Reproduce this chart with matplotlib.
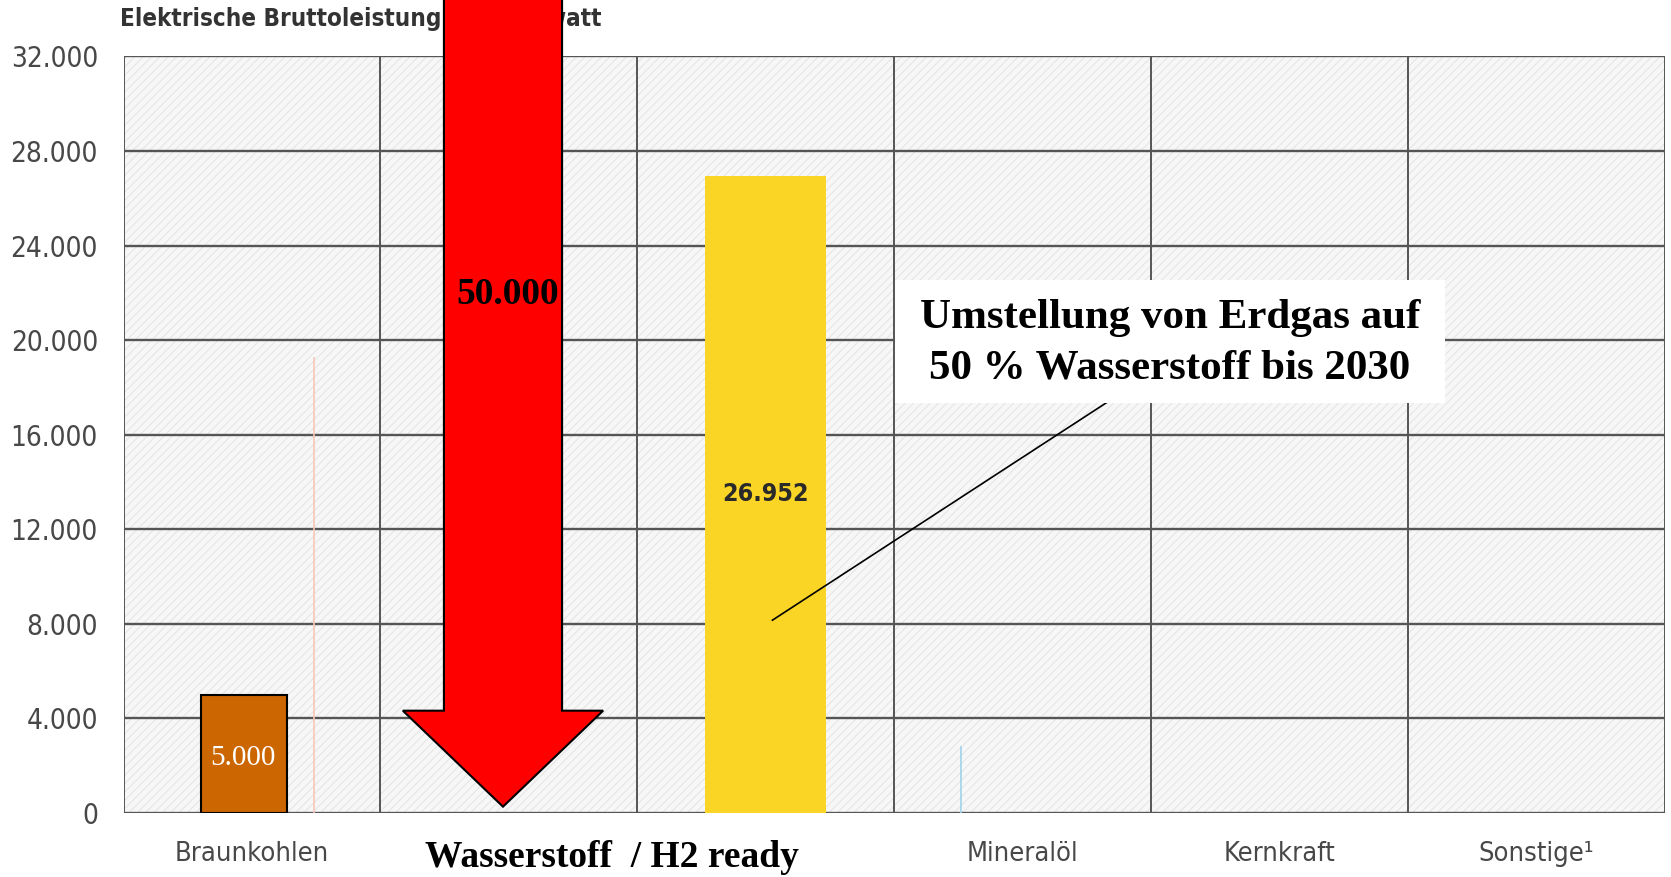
import matplotlib
matplotlib.use('Agg')
import matplotlib.pyplot as plt
from matplotlib.patches import Polygon, Rectangle
import numpy as np

# ============================================
# Daten
# ============================================
categories = ['Braunkohlen', '', '', 'Mineralöl', 'Kernkraft', 'Sonstige¹']
y_ticks = [0, 4000, 8000, 12000, 16000, 20000, 24000, 28000, 32000]
y_tick_labels = ['0', '4.000', '8.000', '12.000', '16.000', '20.000', '24.000', '28.000', '32.000']

braunkohle_value = 5000
braunkohle_label = '5.000'
erdgas_value = 26952
erdgas_label = '26.952'
wasserstoff_label = '50.000'
steinkohle_trace = 19290   # dünne Linie (Rest im Original)
mineraloel_trace = 2840

title = 'Elektrische Bruttoleistung in Megawatt'
box_text = 'Umstellung von Erdgas auf\n50 % Wasserstoff bis 2030'
h2_text = 'Wasserstoff  / H2 ready'

# ============================================
# Stil
# ============================================
sans = ['DejaVu Sans']
serif = ['Liberation Serif', 'DejaVu Serif']
grid_color = '#555555'
label_color = '#484848'

plt.rcParams['hatch.linewidth'] = 0.7

fig = plt.figure(figsize=(16.71, 8.77), dpi=100)
ax = fig.add_axes([0.074, 0.0729, 0.9222, 0.8627])
ax.set_xlim(-0.5, 5.5)
ax.set_ylim(0, 32000)

# Hintergrund schraffiert
ax.add_patch(Rectangle((-0.5, 0), 6, 32000, facecolor='#f7f7f7', edgecolor='#e4e4e4',
                       hatch='////', linewidth=0, zorder=0))

# Gitter
for y in y_ticks:
    ax.axhline(y, color=grid_color, linewidth=1.7, zorder=1)
for x in np.arange(-0.5, 6.0, 1.0):
    ax.axvline(x, color=grid_color, linewidth=1.4, zorder=1)
for s in ax.spines.values():
    s.set_visible(False)

# Balken
ax.bar(-0.03, braunkohle_value, width=0.335, color='#CC6600', edgecolor='black',
       linewidth=1.5, zorder=3)
ax.text(-0.036, braunkohle_value * 0.47, braunkohle_label, color='white', ha='center',
        va='center', fontsize=21, family=serif, zorder=4)

ax.bar(2.0, erdgas_value, width=0.472, color='#FAD526', linewidth=0, zorder=3)
ax.text(2.0, erdgas_value / 2, erdgas_label, color='#2a2a2a', ha='center', va='center',
        fontsize=18, fontweight='bold', family=sans, fontstretch='condensed', zorder=4)

ax.vlines(0.241, 0, steinkohle_trace, color='#f5c8b8', linewidth=1.2, zorder=2)
ax.vlines(2.759, 0, mineraloel_trace, color='#9fd3ea', linewidth=1.2, zorder=2)

# Achsenbeschriftung
ax.set_yticks(y_ticks)
ax.set_yticklabels(y_tick_labels, fontsize=20, color=label_color, family=sans,
                   fontstretch='condensed')
ax.set_xticks(range(len(categories)))
ax.set_xticklabels(categories, fontsize=19.5, color=label_color, family=sans,
                   fontstretch='condensed')
ax.tick_params(axis='y', length=0, pad=18.5)
ax.tick_params(axis='x', length=0, pad=20)

# Titel unter dem Pfeil zeichnen
ax.text(0.072, 0.978, title, transform=fig.transFigure, fontsize=17.4, fontweight='bold',
        color='#333333', family=sans, fontstretch='condensed', ha='left', va='center',
        zorder=2, clip_on=False)

# Roter Pfeil (Wasserstoff)
cx = 0.977
arrow = Polygon([(cx - 0.23, 36000), (cx + 0.23, 36000), (cx + 0.23, 4330),
                 (cx + 0.39, 4330), (cx, 270), (cx - 0.39, 4330), (cx - 0.23, 4330)],
                closed=True, facecolor='#FF0000', edgecolor='black', linewidth=1.5,
                zorder=6, clip_on=False)
ax.add_patch(arrow)
ax.text(0.995, 21950, wasserstoff_label, ha='center', va='center', fontsize=27,
        fontweight='bold', family=serif, color='black', zorder=7)
ax.text(1.40, -1870, h2_text, ha='center', va='center', fontsize=27, fontweight='bold',
        family=serif, color='black', zorder=7, clip_on=False)

# Hinweisbox
ax.plot([3.326, 2.026], [17352, 8158], color='black', linewidth=1.2, zorder=5)
ax.add_patch(Rectangle((2.502, 17352), 2.141, 5183, facecolor='white', edgecolor='none',
                       zorder=6))
ax.text(3.573, 19880, box_text, ha='center', va='center', fontsize=31, fontweight='bold',
        family=serif, color='black', linespacing=1.42, zorder=7)

fig.savefig('out.png', dpi=100)
